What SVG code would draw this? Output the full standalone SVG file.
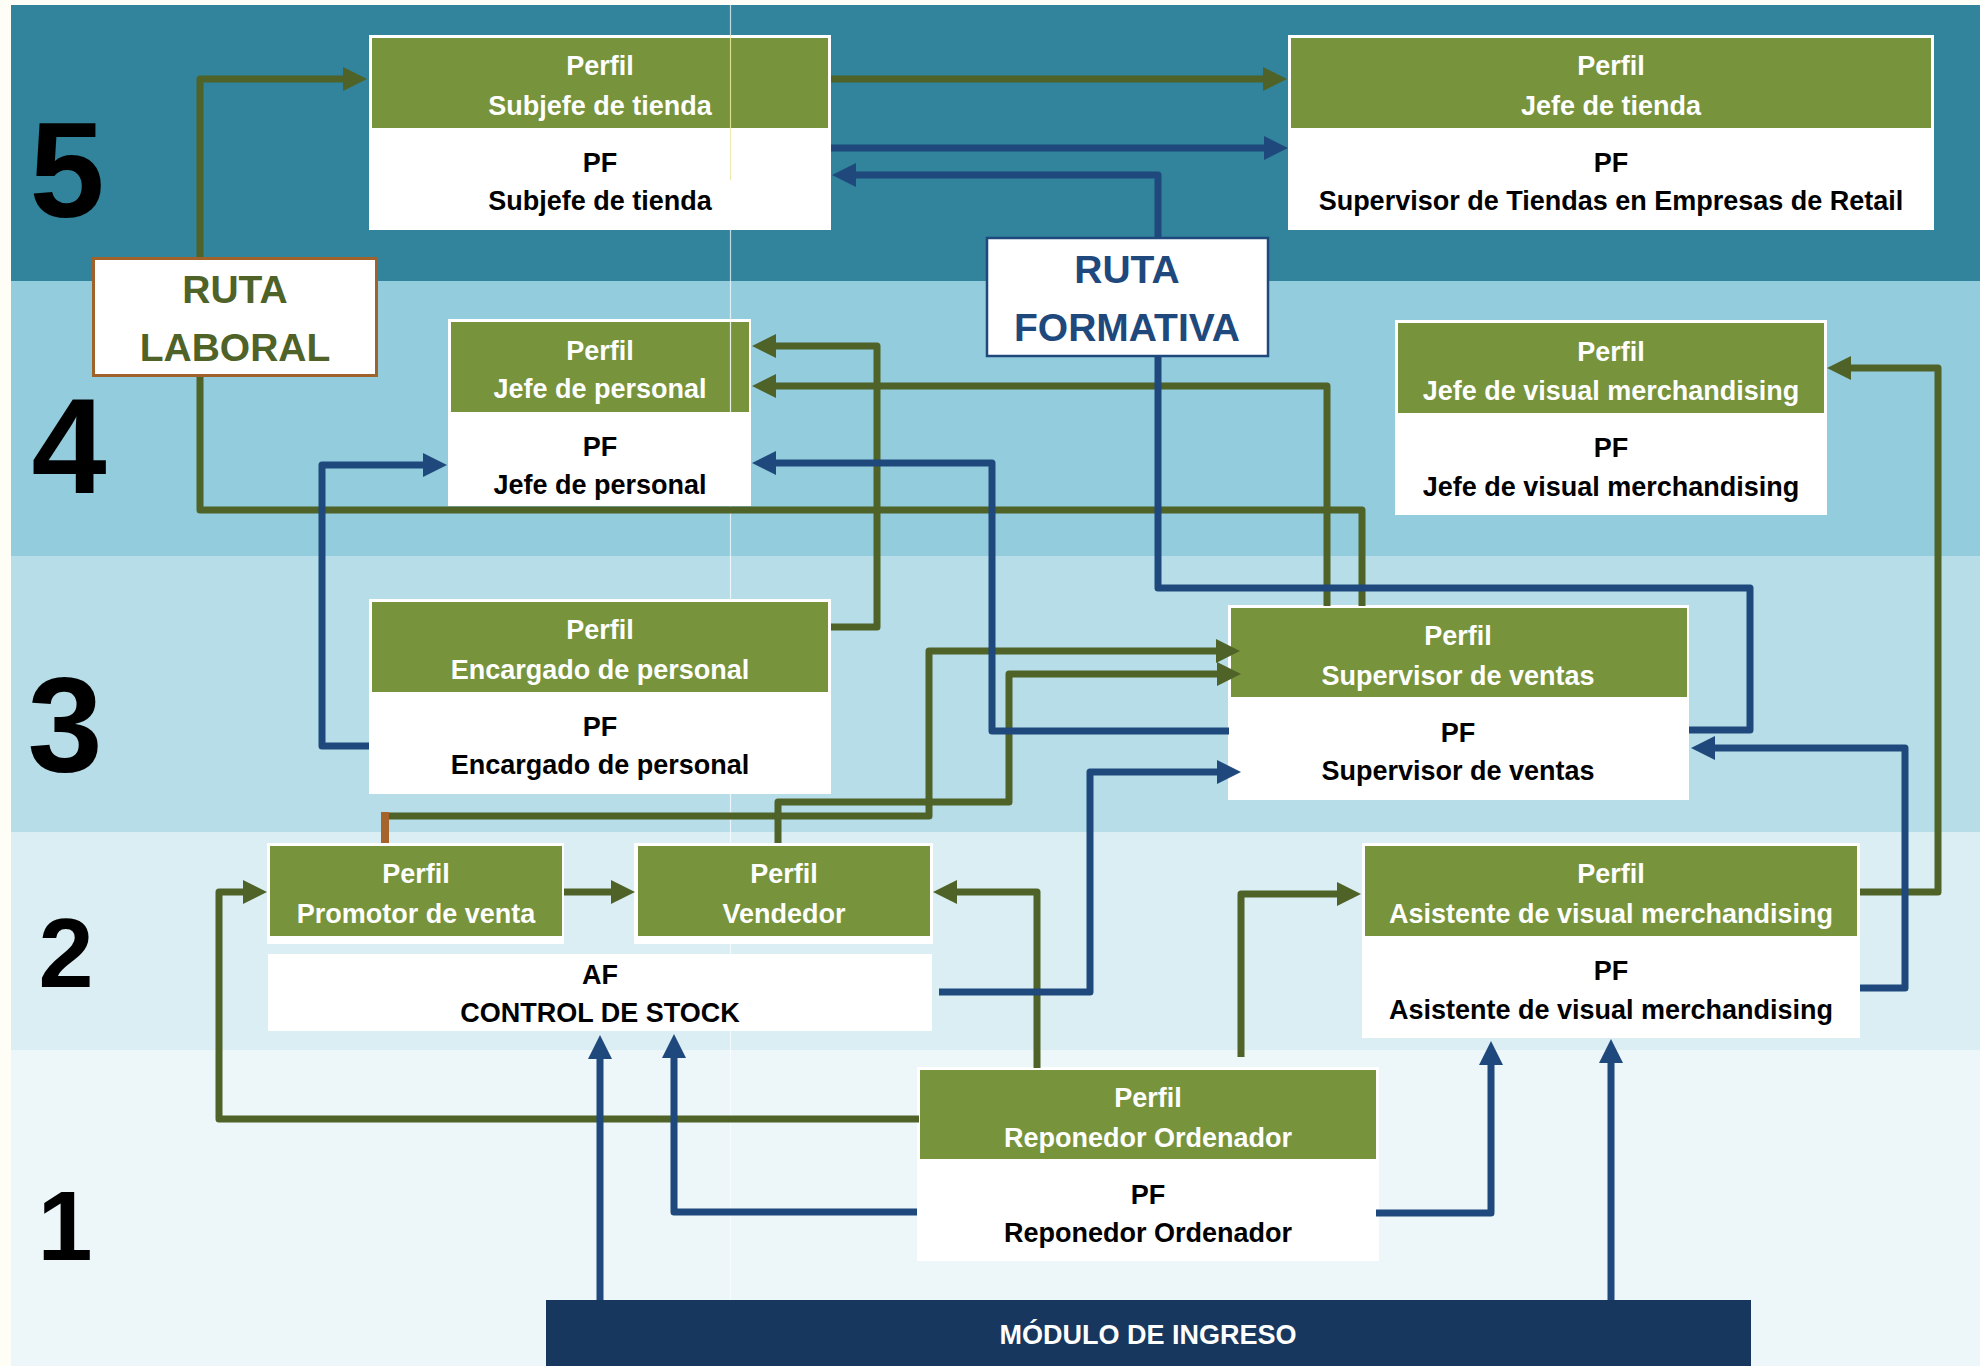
<svg xmlns="http://www.w3.org/2000/svg" width="1980" height="1366" viewBox="0 0 1980 1366">
<defs>
<style>
.t{font-family:"Liberation Sans",Arial,sans-serif;font-weight:bold;font-size:27px;text-anchor:middle}
.w{fill:#FFFFFF}
.k{fill:#000000}
.num{font-family:"Liberation Sans",Arial,sans-serif;font-weight:bold;fill:#000;text-anchor:middle}
.ob{fill:#FFFFFF}
.gr{fill:#77933C}
.cg{fill:none;stroke:#4F6228;stroke-width:7;stroke-linejoin:round}
.cb{fill:none;stroke:#1F497D;stroke-width:7;stroke-linejoin:round}
.ruta{font-family:"Liberation Sans",Arial,sans-serif;font-weight:bold;font-size:39px;text-anchor:middle}
.guide{stroke-width:1.2}
</style>
<marker id="ag" markerUnits="userSpaceOnUse" markerWidth="24" markerHeight="24" refX="1" refY="12" orient="auto"><path d="M0,0 L24,12 L0,24 z" fill="#4F6228"/></marker>
<marker id="ab" markerUnits="userSpaceOnUse" markerWidth="24" markerHeight="24" refX="1" refY="12" orient="auto"><path d="M0,0 L24,12 L0,24 z" fill="#1F497D"/></marker>
</defs>
<g id="background">
<rect x="0" y="0" width="1980" height="1366" fill="#FEFEF6"/>
<rect x="11" y="5" width="1969" height="276" fill="#31849B"/>
<rect x="11" y="281" width="1969" height="275" fill="#93CDDD"/>
<rect x="11" y="556" width="1969" height="276" fill="#B7DEE8"/>
<rect x="11" y="832" width="1969" height="218" fill="#DBEEF4"/>
<rect x="11" y="1050" width="1969" height="316" fill="#EDF6F9"/>
<line class="guide" x1="730.5" y1="0" x2="730.5" y2="1300" stroke="#FFFFFF" opacity="0.7"/>
</g>
<g id="levels">
<text class="num" x="67" y="217" font-size="135">5</text>
<text class="num" x="69" y="493" font-size="135">4</text>
<text class="num" x="65" y="771" font-size="135">3</text>
<text class="num" x="66" y="987" font-size="99">2</text>
<text class="num" x="65" y="1260" font-size="99">1</text>
</g>
<g id="node-subjefe">
<rect class="ob" x="369" y="35" width="462" height="195"/>
<rect class="gr" x="372" y="38" width="456" height="90"/>
<line class="guide" x1="730.5" y1="35" x2="730.5" y2="128" stroke="#F2F2A8" opacity="0.8"/>
<line class="guide" x1="730.5" y1="128" x2="730.5" y2="180" stroke="#E8E8A0" opacity="0.8"/>
<text class="t w" x="600" y="75">Perfil</text>
<text class="t w" x="600" y="115">Subjefe de tienda</text>
<text class="t k" x="600" y="172">PF</text>
<text class="t k" x="600" y="210">Subjefe de tienda</text>
</g>
<g id="node-jefe-tienda">
<rect class="ob" x="1288" y="35" width="646" height="195"/>
<rect class="gr" x="1291" y="38" width="640" height="90"/>
<text class="t w" x="1611" y="75">Perfil</text>
<text class="t w" x="1611" y="115">Jefe de tienda</text>
<text class="t k" x="1611" y="172">PF</text>
<text class="t k" x="1611" y="210">Supervisor de Tiendas en Empresas de Retail</text>
</g>
<g id="node-jefe-personal">
<rect class="ob" x="448" y="319" width="303" height="187"/>
<rect class="gr" x="451" y="322" width="298" height="90"/>
<line class="guide" x1="730.5" y1="319" x2="730.5" y2="412" stroke="#FFFFFF" opacity="0.85"/>
<text class="t w" x="600" y="360">Perfil</text>
<text class="t w" x="600" y="398">Jefe de personal</text>
<text class="t k" x="600" y="456">PF</text>
<text class="t k" x="600" y="494">Jefe de personal</text>
</g>
<g id="node-jefe-visual">
<rect class="ob" x="1395" y="320" width="432" height="195"/>
<rect class="gr" x="1398" y="323" width="426" height="90"/>
<text class="t w" x="1611" y="361">Perfil</text>
<text class="t w" x="1611" y="400">Jefe de visual merchandising</text>
<text class="t k" x="1611" y="457">PF</text>
<text class="t k" x="1611" y="496">Jefe de visual merchandising</text>
</g>
<g id="node-encargado">
<rect class="ob" x="369" y="599" width="462" height="195"/>
<rect class="gr" x="372" y="602" width="456" height="90"/>
<text class="t w" x="600" y="639">Perfil</text>
<text class="t w" x="600" y="679">Encargado de personal</text>
<text class="t k" x="600" y="736">PF</text>
<text class="t k" x="600" y="774">Encargado de personal</text>
</g>
<g id="node-supervisor">
<rect class="ob" x="1228" y="605" width="461" height="195"/>
<rect class="gr" x="1231" y="608" width="456" height="89"/>
<text class="t w" x="1458" y="645">Perfil</text>
<text class="t w" x="1458" y="685">Supervisor de ventas</text>
<text class="t k" x="1458" y="742">PF</text>
<text class="t k" x="1458" y="780">Supervisor de ventas</text>
</g>
<g id="node-promotor">
<rect class="ob" x="267" y="843" width="297" height="101"/>
<rect class="gr" x="270" y="846" width="292" height="90"/>
<text class="t w" x="416" y="883">Perfil</text>
<text class="t w" x="416" y="923">Promotor de venta</text>
</g>
<g id="node-vendedor">
<rect class="ob" x="634" y="843" width="299" height="101"/>
<rect class="gr" x="638" y="846" width="292" height="90"/>
<text class="t w" x="784" y="883">Perfil</text>
<text class="t w" x="784" y="923">Vendedor</text>
</g>
<g id="node-af">
<rect class="ob" x="268" y="954" width="664" height="77"/>
<text class="t k" x="600" y="984">AF</text>
<text class="t k" x="600" y="1022">CONTROL DE STOCK</text>
</g>
<g id="node-asistente">
<rect class="ob" x="1362" y="843" width="498" height="195"/>
<rect class="gr" x="1365" y="846" width="492" height="90"/>
<text class="t w" x="1611" y="883">Perfil</text>
<text class="t w" x="1611" y="923">Asistente de visual merchandising</text>
<text class="t k" x="1611" y="980">PF</text>
<text class="t k" x="1611" y="1019">Asistente de visual merchandising</text>
</g>
<g id="node-reponedor">
<rect class="ob" x="917" y="1067" width="462" height="194"/>
<rect class="gr" x="920" y="1070" width="456" height="89"/>
<text class="t w" x="1148" y="1107">Perfil</text>
<text class="t w" x="1148" y="1147">Reponedor Ordenador</text>
<text class="t k" x="1148" y="1204">PF</text>
<text class="t k" x="1148" y="1242">Reponedor Ordenador</text>
</g>
<g id="node-modulo">
<rect x="546" y="1300" width="1205" height="66" fill="#17375E"/>
<text class="t w" x="1148" y="1344">MÓDULO DE INGRESO</text>
</g>
<g id="connectors">
<path class="cg" d="M1362,606 V510 H200 V79 H344" marker-end="url(#ag)"/>
<path class="cg" d="M831,79 H1264" marker-end="url(#ag)"/>
<path class="cg" d="M831,627 H877 V346 H775" marker-end="url(#ag)"/>
<path class="cg" d="M1327,606 V386 H775" marker-end="url(#ag)"/>
<path class="cg" d="M385,816 H929 V651 H1217" marker-end="url(#ag)"/>
<path class="cg" d="M778,843 V802 H1009 V674 H1218" marker-end="url(#ag)"/>
<path class="cg" d="M564,892 H612" marker-end="url(#ag)"/>
<path class="cg" d="M919,1119 H219 V892 H244" marker-end="url(#ag)"/>
<path class="cg" d="M1037,1068 V892 H956" marker-end="url(#ag)"/>
<path class="cg" d="M1241,1057 V894 H1338" marker-end="url(#ag)"/>
<path class="cg" d="M1860,892 H1938 V368 H1850" marker-end="url(#ag)"/>
<line x1="385" y1="812" x2="385" y2="843" stroke="#A5642C" stroke-width="8"/>
<path class="cb" d="M831,148 H1265" marker-end="url(#ab)"/>
<path class="cb" d="M1689,730 H1750 V588 H1158 V175 H855" marker-end="url(#ab)"/>
<path class="cb" d="M369,746 H322 V465 H424" marker-end="url(#ab)"/>
<path class="cb" d="M1229,731 H992 V463 H775" marker-end="url(#ab)"/>
<path class="cb" d="M939,992 H1090 V772 H1218" marker-end="url(#ab)"/>
<path class="cb" d="M1860,988 H1905 V748 H1714" marker-end="url(#ab)"/>
<path class="cb" d="M917,1212 H674 V1057" marker-end="url(#ab)"/>
<path class="cb" d="M600,1300 V1058" marker-end="url(#ab)"/>
<path class="cb" d="M1376,1213 H1491 V1064" marker-end="url(#ab)"/>
<path class="cb" d="M1611,1300 V1062" marker-end="url(#ab)"/>
</g>
<g id="ruta-laboral">
<rect x="93.5" y="258.5" width="283" height="117" fill="#FFFFFF" stroke="#A0612B" stroke-width="3"/>
<text class="ruta" x="235" y="303" fill="#4F6228">RUTA</text>
<text class="ruta" x="235" y="361" fill="#4F6228">LABORAL</text>
</g>
<g id="ruta-formativa">
<rect x="987" y="238" width="281" height="118" fill="#FFFFFF" stroke="#1F497D" stroke-width="2.5"/>
<text class="ruta" x="1127" y="283" fill="#1F497D">RUTA</text>
<text class="ruta" x="1127" y="341" fill="#1F497D">FORMATIVA</text>
</g>
</svg>
